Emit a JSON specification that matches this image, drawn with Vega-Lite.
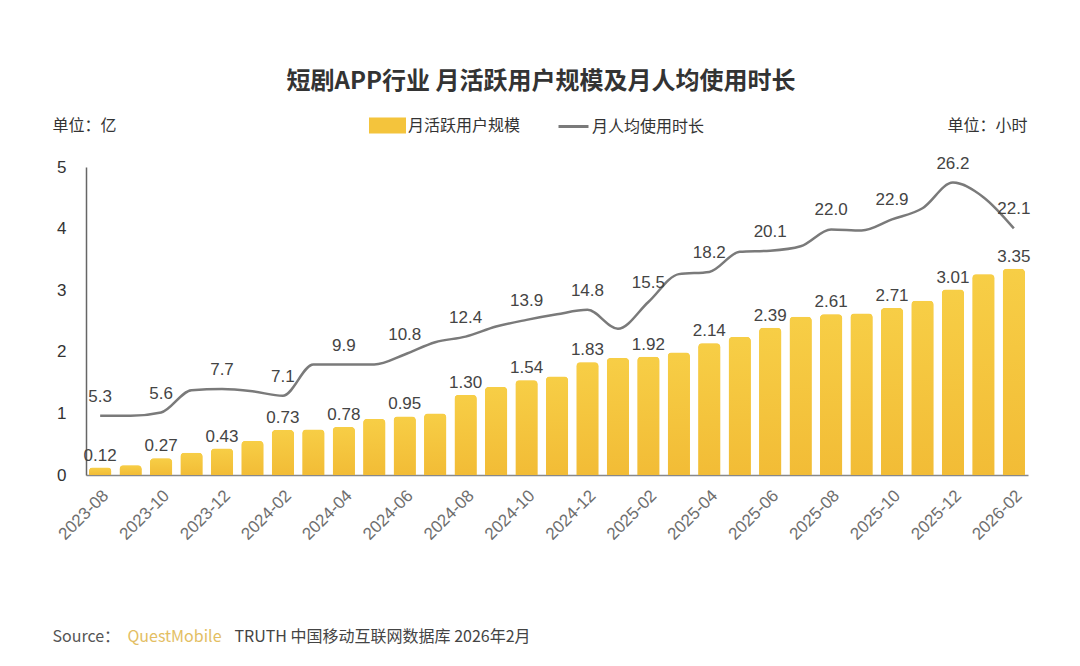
{
  "$schema": "https://vega.github.io/schema/vega-lite/v6.json",
  "width": 942,
  "height": 308,
  "autosize": "none",
  "padding": {"left": 86, "top": 167, "right": 52, "bottom": 191},
  "background": "white",
  "title": {
    "text": "短剧APP行业 月活跃用户规模及月人均使用时长",
    "anchor": "middle",
    "font": "Noto Sans CJK SC",
    "fontSize": 24,
    "fontWeight": "bold",
    "color": "#333333",
    "offset": 13,
    "dx": -16
  },
  "data": {
    "values": [
      {"month": "2023-08", "users": 0.12, "hours": 5.3},
      {"month": "2023-09", "users": 0.16, "hours": 5.3},
      {"month": "2023-10", "users": 0.27, "hours": 5.6},
      {"month": "2023-11", "users": 0.36, "hours": 7.6},
      {"month": "2023-12", "users": 0.43, "hours": 7.7},
      {"month": "2024-01", "users": 0.55, "hours": 7.5},
      {"month": "2024-02", "users": 0.73, "hours": 7.1},
      {"month": "2024-03", "users": 0.74, "hours": 9.9},
      {"month": "2024-04", "users": 0.78, "hours": 9.9},
      {"month": "2024-05", "users": 0.91, "hours": 9.9},
      {"month": "2024-06", "users": 0.95, "hours": 10.8},
      {"month": "2024-07", "users": 1.00, "hours": 11.9},
      {"month": "2024-08", "users": 1.30, "hours": 12.4},
      {"month": "2024-09", "users": 1.43, "hours": 13.3},
      {"month": "2024-10", "users": 1.54, "hours": 13.9},
      {"month": "2024-11", "users": 1.60, "hours": 14.4},
      {"month": "2024-12", "users": 1.83, "hours": 14.8},
      {"month": "2025-01", "users": 1.90, "hours": 13.1},
      {"month": "2025-02", "users": 1.92, "hours": 15.5},
      {"month": "2025-03", "users": 1.99, "hours": 18.0},
      {"month": "2025-04", "users": 2.14, "hours": 18.2},
      {"month": "2025-05", "users": 2.24, "hours": 20.0},
      {"month": "2025-06", "users": 2.39, "hours": 20.1},
      {"month": "2025-07", "users": 2.57, "hours": 20.5},
      {"month": "2025-08", "users": 2.61, "hours": 22.0},
      {"month": "2025-09", "users": 2.62, "hours": 21.9},
      {"month": "2025-10", "users": 2.71, "hours": 22.9},
      {"month": "2025-11", "users": 2.83, "hours": 23.9},
      {"month": "2025-12", "users": 3.01, "hours": 26.2},
      {"month": "2026-01", "users": 3.26, "hours": 24.9},
      {"month": "2026-02", "users": 3.35, "hours": 22.1}
    ]
  },
  "layer": [
    {
      "mark": {"type": "bar", "cornerRadiusTopLeft": 4, "cornerRadiusTopRight": 4},
      "encoding": {
        "x": {
          "field": "month",
          "type": "ordinal",
          "sort": null,
          "scale": {"paddingInner": 0.27, "paddingOuter": 0.1},
          "axis": {
            "values": ["2023-08", "2023-10", "2023-12", "2024-02", "2024-04", "2024-06", "2024-08", "2024-10", "2024-12", "2025-02", "2025-04", "2025-06", "2025-08", "2025-10", "2025-12", "2026-02"],
            "labelAngle": -45,
            "labelFont": "Liberation Sans",
            "labelFontSize": 17,
            "labelColor": "#6E6E6E",
            "labelPadding": 12,
            "ticks": false,
            "domainColor": "#888888",
            "domainWidth": 1.5,
            "title": "Source：",
            "titleX": -34,
            "titleY": 161,
            "titleAlign": "left",
            "titleBaseline": "middle",
            "titleAngle": 0,
            "titleFont": "Noto Sans CJK SC",
            "titleFontSize": 16,
            "titleFontWeight": "normal",
            "titleColor": "#555555"
          }
        },
        "y": {
          "field": "users",
          "type": "quantitative",
          "scale": {"domain": [0, 5]},
          "axis": {
            "values": [0, 1, 2, 3, 4, 5],
            "ticks": false,
            "grid": false,
            "labelFont": "Liberation Sans",
            "labelFontSize": 17,
            "labelColor": "#333333",
            "labelPadding": 20,
            "domainColor": "#666666",
            "domainWidth": 1.5,
            "title": "单位：亿",
            "titleAngle": 0,
            "titleX": -34,
            "titleY": -42,
            "titleAlign": "left",
            "titleBaseline": "middle",
            "titleFont": "Noto Sans CJK SC",
            "titleFontSize": 16,
            "titleFontWeight": "normal",
            "titleColor": "#333333"
          }
        },
        "color": {
          "datum": "月活跃用户规模",
          "scale": {"range": ["#F4C43C"]},
          "legend": {
            "orient": "none",
            "legendX": 283,
            "legendY": -60,
            "title": null,
            "symbolType": "M-1,-0.43L1,-0.43L1,0.43L-1,0.43Z",
            "symbolSize": 1369,
            "symbolStrokeWidth": 0,
            "labelFont": "Noto Sans CJK SC",
            "labelFontSize": 16,
            "labelColor": "#333333",
            "labelOffset": 2
          }
        }
      }
    },
    {
      "mark": {
        "type": "bar",
        "cornerRadiusTopLeft": 4,
        "cornerRadiusTopRight": 4,
        "color": {
          "gradient": "linear",
          "x1": 0, "y1": 0, "x2": 0, "y2": 1,
          "stops": [
            {"offset": 0, "color": "#F7CE46"},
            {"offset": 1, "color": "#F2BC36"}
          ]
        }
      },
      "encoding": {
        "x": {"field": "month", "type": "ordinal", "sort": null, "axis": null},
        "y": {"field": "users", "type": "quantitative", "scale": {"domain": [0, 5]}, "axis": null}
      }
    },
    {
      "transform": [
        {"filter": {"field": "month", "oneOf": ["2023-08", "2023-10", "2023-12", "2024-02", "2024-04", "2024-06", "2024-08", "2024-10", "2024-12", "2025-02", "2025-04", "2025-06", "2025-08", "2025-10", "2025-12", "2026-02"]}}
      ],
      "mark": {"type": "text", "baseline": "alphabetic", "dy": -7, "font": "Liberation Sans", "fontSize": 17, "color": "#444444"},
      "encoding": {
        "x": {"field": "month", "type": "ordinal", "sort": null, "axis": null},
        "y": {"field": "users", "type": "quantitative", "scale": {"domain": [0, 5]}, "axis": null},
        "text": {"field": "users", "type": "quantitative", "format": ".2f"}
      }
    },
    {
      "mark": {"type": "line", "interpolate": "monotone", "strokeWidth": 2.5},
      "encoding": {
        "x": {
          "field": "month",
          "type": "ordinal",
          "sort": null,
          "axis": {
            "orient": "bottom",
            "labels": false,
            "ticks": false,
            "domain": false,
            "title": "QuestMobile",
            "titleX": 41,
            "titleY": 161,
            "titleAlign": "left",
            "titleBaseline": "middle",
            "titleAngle": 0,
            "titleFont": "Noto Sans CJK SC",
            "titleFontSize": 16,
            "titleFontWeight": "normal",
            "titleColor": "#E3BE63"
          }
        },
        "y": {
          "field": "hours",
          "type": "quantitative",
          "scale": {"domain": [0, 27.6]},
          "axis": {
            "orient": "right",
            "labels": false,
            "ticks": false,
            "domain": false,
            "grid": false,
            "title": "单位：小时",
            "titleAngle": 0,
            "titleX": -1,
            "titleY": -42,
            "titleAlign": "right",
            "titleBaseline": "middle",
            "titleFont": "Noto Sans CJK SC",
            "titleFontSize": 16,
            "titleFontWeight": "normal",
            "titleColor": "#333333"
          }
        },
        "stroke": {
          "datum": "月人均使用时长",
          "scale": {"range": ["#7A7A7A"]},
          "legend": {
            "orient": "none",
            "legendX": 471,
            "legendY": -57,
            "title": null,
            "symbolType": "stroke",
            "symbolSize": 900,
            "symbolStrokeWidth": 3,
            "labelFont": "Noto Sans CJK SC",
            "labelFontSize": 16,
            "labelColor": "#333333",
            "labelOffset": 2
          }
        }
      }
    },
    {
      "transform": [
        {"filter": {"field": "month", "oneOf": ["2023-08", "2023-10", "2023-12", "2024-02", "2024-04", "2024-06", "2024-08", "2024-10", "2024-12", "2025-02", "2025-04", "2025-06", "2025-08", "2025-10", "2025-12", "2026-02"]}}
      ],
      "mark": {"type": "text", "baseline": "alphabetic", "dy": -14, "font": "Liberation Sans", "fontSize": 17, "color": "#444444"},
      "encoding": {
        "x": {
          "field": "month",
          "type": "ordinal",
          "sort": null,
          "axis": {
            "orient": "bottom",
            "labels": false,
            "ticks": false,
            "domain": false,
            "title": "TRUTH 中国移动互联网数据库 2026年2月",
            "titleX": 148,
            "titleY": 161,
            "titleAlign": "left",
            "titleBaseline": "middle",
            "titleAngle": 0,
            "titleFont": "Noto Sans CJK SC",
            "titleFontSize": 16,
            "titleFontWeight": "normal",
            "titleColor": "#444444"
          }
        },
        "y": {"field": "hours", "type": "quantitative", "scale": {"domain": [0, 27.6]}, "axis": null},
        "text": {"field": "hours", "type": "quantitative", "format": ".1f"}
      }
    }
  ],
  "resolve": {
    "scale": {"y": "independent"},
    "axis": {"x": "independent", "y": "independent"}
  },
  "config": {
    "view": {"stroke": null},
    "font": "Noto Sans CJK SC",
    "axis": {"grid": false}
  }
}
